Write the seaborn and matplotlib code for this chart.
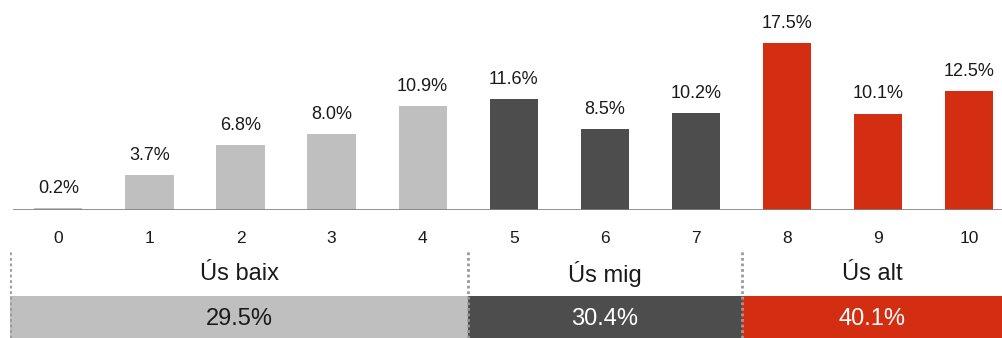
import matplotlib
matplotlib.use("Agg")
import matplotlib.pyplot as plt
import seaborn as sns
import pandas as pd

scores = [str(i) for i in range(11)]
shares = [0.2, 3.7, 6.8, 8.0, 10.9, 11.6, 8.5, 10.2, 17.5, 10.1, 12.5]
groups = ["Ús baix"] * 5 + ["Ús mig"] * 3 + ["Ús alt"] * 3
group_names = ["Ús baix", "Ús mig", "Ús alt"]
group_totals = [29.5, 30.4, 40.1]
group_colors = {"Ús baix": "#BFBFBF", "Ús mig": "#4D4D4D", "Ús alt": "#D42E12"}
group_text = {"Ús baix": "#1a1a1a", "Ús mig": "white", "Ús alt": "white"}

df = pd.DataFrame({"score": scores, "share": shares, "group": groups})

sns.set_style("white")
plt.rcParams["font.family"] = ["Liberation Sans", "DejaVu Sans"]

W, H = 1003, 338
fig = plt.figure(figsize=(W / 100, H / 100), dpi=100)
ax = fig.add_axes([10 / W, 128 / H, 993 / W, 210 / H])
sns.barplot(data=df, x="score", y="share", hue="group", palette=group_colors,
            dodge=False, width=0.53, saturation=1, linewidth=0, legend=False, ax=ax)
ax.set_xlim(-0.53, 10.37)
ax.set_ylim(0, 22)
for c in ax.containers:
    ax.bar_label(c, labels=[f"{v:.1f}%" for v in c.datavalues], padding=8,
                 fontsize=13, color="#1a1a1a")
sns.despine(ax=ax, left=True, bottom=True)
ax.hlines(0, -0.5, 10.37, color="#808080", lw=1.2)
ax.set_yticks([])
ax.tick_params(axis="x", length=0, pad=15, labelsize=12.5, labelcolor="#1a1a1a")
ax.set_xlabel("")
ax.set_ylabel("")

# group band below the axis
bx = fig.add_axes([10 / W, 0, 993 / W, 88 / H], sharex=ax)
bx.set_ylim(0, 88)
bx.axis("off")
idx = df.groupby("group", sort=False)["score"].apply(lambda s: [int(v) for v in s])
left = -0.53
for name, total in zip(group_names, group_totals):
    cats = idx[name]
    right = cats[-1] + 0.5 if cats[-1] < 10 else 10.37
    bx.fill_between([left, right], 0, 42, color=group_colors[name], lw=0)
    mid = (left + right) / 2
    bx.text(mid, 19, f"{total:.1f}%", ha="center", va="center", fontsize=17,
            color=group_text[name])
    bx.text(mid, 64, name, ha="center", va="center", fontsize=17,
            color="#1a1a1a")
    if name != "Ús alt":
        bx.vlines([left], 0, 88, color="#9a9a9a", lw=2, linestyles=(0, (1, 1)))
    left = right
bx.vlines([7.5], 0, 88, color="#9a9a9a", lw=2, linestyles=(0, (1, 1)))

fig.savefig("out.png", dpi=100)
